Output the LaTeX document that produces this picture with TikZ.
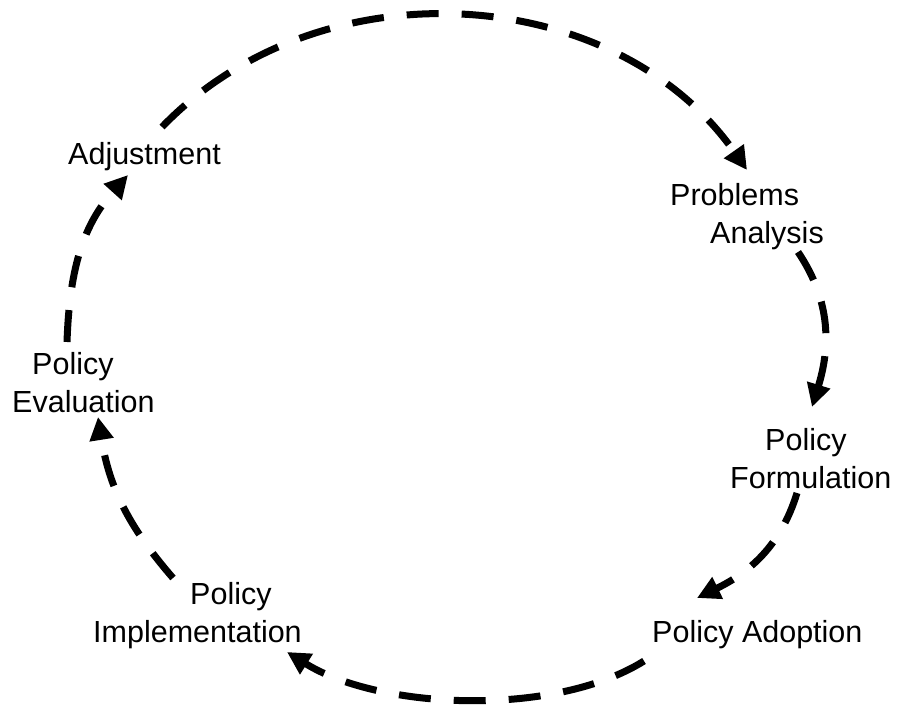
\documentclass[tikz,border=0pt]{standalone}
\usepackage{fontspec}
\setmainfont{Liberation Sans}
\usetikzlibrary{arrows.meta}
\begin{document}
\begin{tikzpicture}[x=1pt,y=1pt,
  stage/.style={anchor=north west, inner sep=0pt, align=left,
    font={\fontsize{30.5}{38.5}\selectfont}},
  flow/.style={line width=7pt, dash pattern=on 32pt off 23pt,
    -{Triangle[length=23pt,width=23pt]}}]
\useasboundingbox (0,0) rectangle (899,704);

% stage labels
\node[stage] (adj)  at (68,562)  {Adjustment};
\node[stage] (prob) at (670,521) {Problems\\\hspace*{40pt}Analysis};
\node[stage] (form) at (730,276) {\hspace*{35pt}Policy\\Formulation};
\node[stage] (adop) at (652,84)  {Policy Adoption};
\node[stage] (impl) at (93,122)  {\hspace*{97pt}Policy\\Implementation};
\node[stage] (eval) at (12,352)  {\hspace*{20pt}Policy\\Evaluation};

% ends of the cycle arcs
\coordinate (adj-out)  at (162,577);
\coordinate (prob-in)  at (747,534);
\coordinate (prob-out) at (798,452);
\coordinate (form-in)  at (812,297);
\coordinate (form-out) at (797,211);
\coordinate (adop-in)  at (697,106);
\coordinate (adop-out) at (644,43);
\coordinate (impl-in)  at (287,52);
\coordinate (impl-out) at (173,126);
\coordinate (eval-in)  at (98,287);
\coordinate (eval-out) at (67,362);
\coordinate (adj-in)   at (128,529);

% the policy cycle
\draw[flow] (adj-out)  to[out=46,in=125] (prob-in);
\draw[flow] (prob-out) to[out=-56,in=73] (form-in);
\draw[flow] (form-out) to[out=-107,in=26] (adop-in);
\draw[flow] (adop-out) to[out=-148,in=-32,looseness=0.77] (impl-in);
\draw[flow] (impl-out) to[out=131,in=-81] (eval-in);
\draw[flow] (eval-out) to[out=88,in=-132] (adj-in);
\end{tikzpicture}
\end{document}
